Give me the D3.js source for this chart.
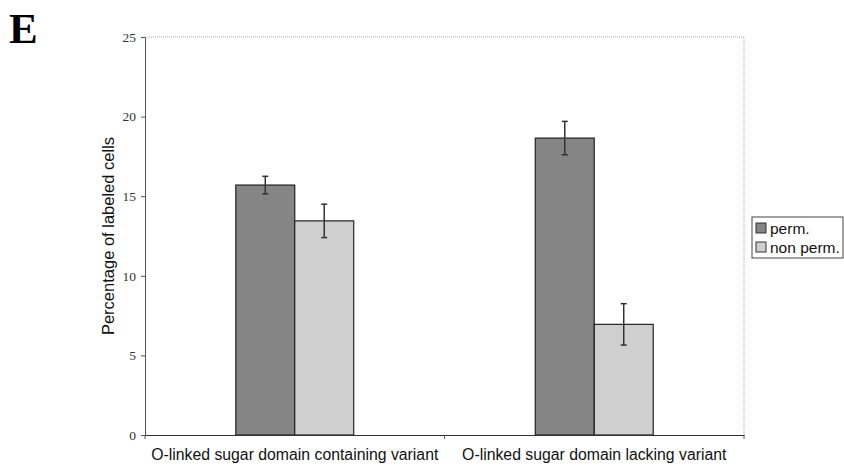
<!DOCTYPE html>
<html>
<head>
<meta charset="utf-8">
<script src="https://cdn.jsdelivr.net/npm/d3@7"></script>
<style>
  body { margin: 0; background: #fff; }
  svg { display: block; }
</style>
</head>
<body>
<figure id="chart" style="margin:0"></figure>
<script>
// data
const categories = ["O-linked sugar domain containing variant", "O-linked sugar domain lacking variant"];
const seriesNames = ["perm.", "non perm."];
const permValues = [15.7, 18.65];
const permErrors = [0.55, 1.05];
const nonPermValues = [13.45, 6.95];
const nonPermErrors = [1.05, 1.3];
const yTicks = [0, 5, 10, 15, 20, 25];

const colors = { "perm.": "#858585", "non perm.": "#cfcfcf" };

const width = 844, height = 467;
const plot = { left: 145, right: 744, top: 37, bottom: 435 };

const rows = [];
categories.forEach((c, i) => {
  rows.push({ cat: c, series: "perm.", value: permValues[i], err: permErrors[i] });
  rows.push({ cat: c, series: "non perm.", value: nonPermValues[i], err: nonPermErrors[i] });
});

const svg = d3.select("#chart")
  .append("svg")
  .attr("width", width)
  .attr("height", height);

// panel letter
svg.append("text")
  .attr("x", 9)
  .attr("y", 43)
  .attr("font-family", "Liberation Serif, serif")
  .attr("font-weight", "bold")
  .attr("font-size", 43)
  .text("E");

const x = d3.scaleBand()
  .domain(categories)
  .range([plot.left, plot.right]);

const x1 = d3.scaleBand()
  .domain(seriesNames)
  .range([0, x.bandwidth()])
  .paddingOuter(1.54);

const y = d3.scaleLinear()
  .domain([0, 25])
  .range([plot.bottom, plot.top]);

// plot area border, dotted top and right
svg.append("path")
  .attr("d", `M${plot.left},${plot.top}H${plot.right}V${plot.bottom}`)
  .attr("fill", "none")
  .attr("stroke", "#aaa")
  .attr("stroke-width", 1)
  .attr("stroke-dasharray", "1,1");

// bars
svg.append("g").selectAll("rect")
  .data(rows)
  .enter()
  .append("rect")
  .attr("x", d => x(d.cat) + x1(d.series))
  .attr("y", d => y(d.value))
  .attr("width", x1.bandwidth())
  .attr("height", d => y(0) - y(d.value))
  .attr("fill", d => colors[d.series])
  .attr("stroke", "#222")
  .attr("stroke-width", 1.2);

// error bars
const eb = svg.append("g").attr("stroke", "#333").attr("stroke-width", 1.5);
rows.forEach(d => {
  const cx = x(d.cat) + x1(d.series) + x1.bandwidth() / 2;
  eb.append("line").attr("x1", cx).attr("x2", cx)
    .attr("y1", y(d.value + d.err)).attr("y2", y(d.value - d.err));
  [d.value + d.err, d.value - d.err].forEach(v => {
    eb.append("line").attr("x1", cx - 3).attr("x2", cx + 3)
      .attr("y1", y(v)).attr("y2", y(v));
  });
});

// y axis
const yAxis = svg.append("g")
  .attr("transform", `translate(${plot.left},0)`)
  .call(d3.axisLeft(y).tickValues(yTicks).tickSize(4).tickPadding(5));
yAxis.select(".domain").attr("stroke", "#555");
yAxis.selectAll(".tick line").attr("stroke", "#555");
yAxis.selectAll("text")
  .attr("font-family", "Liberation Serif, serif")
  .attr("font-size", 13.5)
  .attr("fill", "#333");

// x axis
const xAxis = svg.append("g")
  .attr("transform", `translate(0,${plot.bottom})`)
  .call(d3.axisBottom(x).tickSize(0).tickPadding(14));
xAxis.select(".domain").attr("stroke", "#333").attr("stroke-width", 1.2);
xAxis.selectAll("text")
  .attr("font-family", "Liberation Sans, Arial, sans-serif")
  .attr("font-size", 15.8)
  .attr("fill", "#111");
// category boundary ticks
xAxis.append("g").selectAll("line")
  .data(categories.concat([null]))
  .enter()
  .append("line")
  .attr("x1", (d, i) => plot.left + i * x.step())
  .attr("x2", (d, i) => plot.left + i * x.step())
  .attr("y1", 0).attr("y2", 4)
  .attr("stroke", "#555");

// y axis title
svg.append("text")
  .attr("transform", `translate(114,${(plot.top + plot.bottom) / 2}) rotate(-90)`)
  .attr("text-anchor", "middle")
  .attr("font-family", "Liberation Sans, Arial, sans-serif")
  .attr("font-size", 16.5)
  .attr("fill", "#111")
  .text("Percentage of labeled cells");

// legend
const legend = svg.append("g").attr("transform", "translate(752,217)");
legend.append("rect")
  .attr("width", 91).attr("height", 41)
  .attr("fill", "#fff")
  .attr("stroke", "#444").attr("stroke-width", 1);
seriesNames.forEach((s, i) => {
  const g = legend.append("g").attr("transform", `translate(4,${6 + i * 19})`);
  g.append("rect")
    .attr("width", 10).attr("height", 10)
    .attr("fill", colors[s])
    .attr("stroke", "#333").attr("stroke-width", 1);
  g.append("text")
    .attr("x", 14).attr("y", 10.5)
    .attr("font-family", "Liberation Sans, Arial, sans-serif")
    .attr("font-size", 15.5)
    .attr("fill", "#111")
    .text(s);
});
</script>
</body>
</html>
